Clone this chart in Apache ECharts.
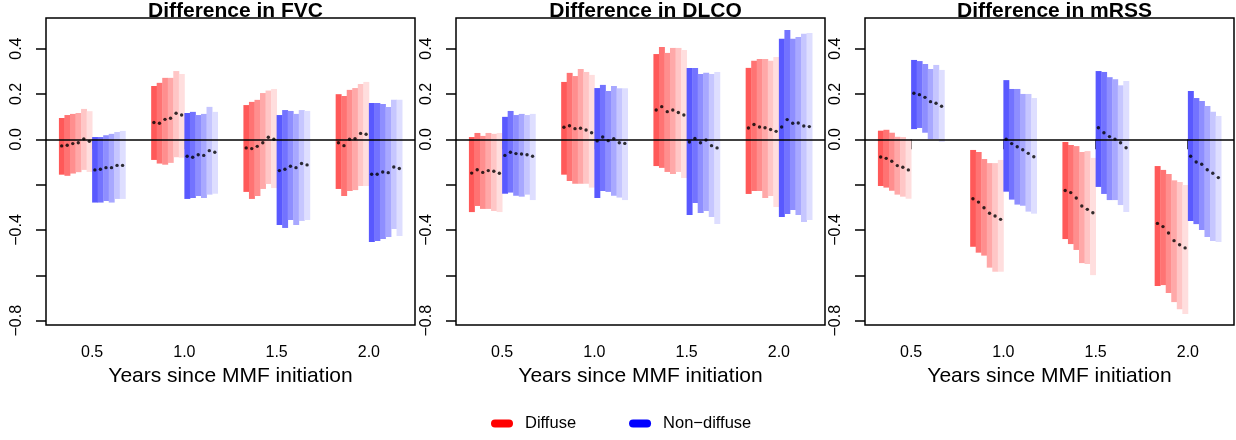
<!DOCTYPE html>
<html>
<head>
<meta charset="utf-8">
<script src="https://cdn.jsdelivr.net/npm/echarts@6/dist/echarts.min.js"></script>
<style>
html,body{margin:0;padding:0;background:#fff;}
#chart{width:1236px;height:440px;}
</style>
</head>
<body>
<div id="chart"></div>
<script>
// ---------------- data ----------------
const times = [0.5, 1.0, 1.5, 2.0];
const xTickValues = [0.5, 1.0, 1.5, 2.0];
const yTickValues = [-0.8, -0.6, -0.4, -0.2, 0, 0.2, 0.4];
const yLabelValues = [-0.8, -0.4, 0, 0.2, 0.4];
const panelTitles = ['Difference in FVC', 'Difference in DLCO', 'Difference in mRSS'];
const groupNames = ['Diffuse', 'Non\u2212diffuse'];
const xAxisTitle = 'Years since MMF initiation';

// each array: rows = time points (0.5,1.0,1.5,2.0), columns = 6 successive estimates
const fvcDiffuseHigh = [[0.094,0.107,0.112,0.116,0.134,0.124],[0.235,0.249,0.271,0.271,0.301,0.288],[0.151,0.165,0.174,0.204,0.215,0.222],[0.199,0.191,0.218,0.226,0.244,0.253]];
const fvcDiffuseLow  = [[-0.156,-0.161,-0.151,-0.145,-0.135,-0.144],[-0.091,-0.107,-0.112,-0.104,-0.079,-0.081],[-0.232,-0.263,-0.250,-0.219,-0.197,-0.215],[-0.219,-0.250,-0.228,-0.224,-0.206,-0.206]];
const fvcDiffuseEst  = [[-0.029,-0.026,-0.019,-0.015,0.002,-0.009],[0.074,0.071,0.088,0.093,0.115,0.107],[-0.038,-0.041,-0.031,-0.015,0.009,0.000],[-0.015,-0.028,0.000,0.003,0.026,0.022]];
const fvcNonHigh = [[0.010,0.010,0.018,0.024,0.032,0.037],[0.116,0.121,0.107,0.112,0.143,0.121],[0.107,0.129,0.125,0.112,0.129,0.125],[0.160,0.160,0.156,0.143,0.174,0.174]];
const fvcNonLow  = [[-0.279,-0.279,-0.272,-0.279,-0.263,-0.263],[-0.263,-0.259,-0.250,-0.259,-0.244,-0.240],[-0.378,-0.391,-0.356,-0.378,-0.360,-0.356],[-0.453,-0.449,-0.440,-0.431,-0.396,-0.426]];
const fvcNonEst  = [[-0.135,-0.132,-0.125,-0.125,-0.115,-0.115],[-0.075,-0.079,-0.068,-0.071,-0.050,-0.057],[-0.138,-0.132,-0.119,-0.125,-0.107,-0.113],[-0.154,-0.154,-0.144,-0.147,-0.122,-0.129]];

const dlcoDiffuseHigh = [[0.010,0.028,0.015,0.028,0.024,0.028],[0.253,0.293,0.279,0.310,0.297,0.284],[0.376,0.407,0.381,0.403,0.403,0.394],[0.315,0.346,0.354,0.354,0.346,0.363]];
const dlcoDiffuseLow  = [[-0.321,-0.294,-0.307,-0.307,-0.316,-0.321],[-0.156,-0.184,-0.196,-0.196,-0.196,-0.213],[-0.118,-0.126,-0.144,-0.153,-0.144,-0.171],[-0.241,-0.228,-0.228,-0.259,-0.250,-0.299]];
const dlcoDiffuseEst  = [[-0.149,-0.134,-0.146,-0.138,-0.141,-0.150],[0.053,0.060,0.047,0.049,0.041,0.029],[0.129,0.144,0.122,0.129,0.118,0.107],[0.050,0.065,0.054,0.051,0.043,0.035]];
const dlcoNonHigh = [[0.099,0.125,0.107,0.112,0.107,0.112],[0.226,0.240,0.213,0.235,0.225,0.225],[0.315,0.315,0.288,0.293,0.288,0.297],[0.443,0.482,0.443,0.451,0.465,0.469]];
const dlcoNonLow  = [[-0.240,-0.235,-0.249,-0.253,-0.244,-0.268],[-0.259,-0.228,-0.232,-0.249,-0.257,-0.268],[-0.334,-0.281,-0.325,-0.316,-0.343,-0.374],[-0.343,-0.329,-0.312,-0.334,-0.365,-0.356]];
const dlcoNonEst  = [[-0.071,-0.057,-0.063,-0.065,-0.068,-0.075],[-0.007,0.010,-0.006,0.003,-0.015,-0.018],[-0.012,0.004,-0.015,-0.003,-0.028,-0.038],[0.054,0.087,0.071,0.072,0.059,0.056]];

const mrssDiffuseHigh = [[0.038,0.042,0.029,0.011,0.010,0.000],[-0.047,-0.056,-0.087,-0.105,-0.105,-0.091],[-0.012,-0.025,-0.030,-0.056,-0.052,-0.082],[-0.118,-0.135,-0.153,-0.181,-0.188,-0.201]];
const mrssDiffuseLow  = [[-0.206,-0.213,-0.227,-0.244,-0.253,-0.262],[-0.474,-0.500,-0.513,-0.566,-0.584,-0.584],[-0.440,-0.462,-0.488,-0.546,-0.550,-0.599],[-0.647,-0.643,-0.678,-0.718,-0.749,-0.771]];
const mrssDiffuseEst  = [[-0.078,-0.084,-0.097,-0.116,-0.123,-0.135],[-0.262,-0.277,-0.302,-0.326,-0.338,-0.353],[-0.226,-0.235,-0.259,-0.294,-0.309,-0.324],[-0.371,-0.385,-0.413,-0.447,-0.465,-0.479]];
const mrssNonHigh = [[0.350,0.345,0.332,0.310,0.328,0.306],[0.261,0.222,0.222,0.200,0.200,0.182],[0.301,0.297,0.274,0.265,0.238,0.257],[0.213,0.182,0.169,0.147,0.121,0.103]];
const mrssNonLow  = [[0.045,0.050,0.029,0.001,0.001,-0.011],[-0.231,-0.266,-0.288,-0.293,-0.319,-0.328],[-0.210,-0.241,-0.268,-0.268,-0.290,-0.321],[-0.360,-0.374,-0.400,-0.431,-0.449,-0.453]];
const mrssNonEst  = [[0.203,0.197,0.185,0.166,0.159,0.146],[0.000,-0.019,-0.033,-0.046,-0.062,-0.077],[0.051,0.029,0.012,0.001,-0.015,-0.037],[-0.075,-0.100,-0.110,-0.134,-0.150,-0.169]];

// ---------------- styling / layout ----------------
const redShades  = ['#ff5959','#ff7373','#ff8e8e','#ffa8a8','#ffc6c6','#ffdede'];
const blueShades = ['#5959ff','#7373ff','#8e8eff','#a8a8ff','#c6c6ff','#dedeff'];
const FONT = '"Liberation Sans", Arial, Helvetica, sans-serif';
const barStep = 0.03;

const panels = [
  {d:[fvcDiffuseLow, fvcDiffuseHigh, fvcDiffuseEst], n:[fvcNonLow, fvcNonHigh, fvcNonEst]},
  {d:[dlcoDiffuseLow, dlcoDiffuseHigh, dlcoDiffuseEst], n:[dlcoNonLow, dlcoNonHigh, dlcoNonEst]},
  {d:[mrssDiffuseLow, mrssDiffuseHigh, mrssDiffuseEst], n:[mrssNonLow, mrssNonHigh, mrssNonEst]}
];
const gridLefts = [46, 456, 865];
const gridW = 369, gridTop = 18, gridH = 307;

function barX(t, k, side) {
  return side < 0 ? t - barStep * 6 + barStep * (k + 0.5) : t + barStep * (k + 0.5);
}
function buildBarData(lows, highs, side) {
  const out = [];
  times.forEach((t, ti) => {
    lows[ti].forEach((lo, k) => { out.push([barX(t, k, side), lo, highs[ti][k], k]); });
  });
  return out;
}
function buildDotData(ests, side) {
  const out = [];
  times.forEach((t, ti) => {
    ests[ti].forEach((e, k) => { out.push([barX(t, k, side), e]); });
  });
  return out;
}
function barRenderer(shades) {
  return function (params, api) {
    const x = api.value(0), lo = api.value(1), hi = api.value(2), k = api.value(3);
    const p1 = api.coord([x, hi]);
    const p2 = api.coord([x, lo]);
    const w = api.size([barStep, 0])[0];
    return {
      type: 'rect',
      shape: {x: p1[0] - w / 2, y: p1[1], width: w + 0.4, height: p2[1] - p1[1]},
      style: {fill: shades[k]}
    };
  };
}
const fmt = v => (v < 0 ? '\u2212' : '') + Math.abs(v).toFixed(1);

const grids = [], xAxes = [], yAxes = [], titles = [], series = [];
panels.forEach((p, i) => {
  grids.push({left: gridLefts[i], top: gridTop, width: gridW, height: gridH,
    show: true, borderColor: '#000', borderWidth: 1.5, backgroundColor: 'transparent'});
  xAxes.push({type: 'value', gridIndex: i, min: 0.25, max: 2.25,
    axisLine: {show: false}, splitLine: {show: false},
    axisTick: {show: true, length: 10, lineStyle: {color: '#000', width: 1.5}, customValues: xTickValues},
    axisLabel: {show: true, customValues: xTickValues, formatter: v => v.toFixed(1),
      color: '#000', fontSize: 16, fontFamily: FONT, margin: 20},
    name: xAxisTitle, nameLocation: 'middle', nameGap: 39,
    nameTextStyle: {color: '#000', fontSize: 21, fontFamily: FONT}});
  yAxes.push({type: 'value', gridIndex: i, min: -0.819, max: 0.535,
    axisLine: {show: false}, splitLine: {show: false},
    axisTick: {show: true, length: 10, lineStyle: {color: '#000', width: 1.5}, customValues: yTickValues},
    axisLabel: {show: true, customValues: yLabelValues, formatter: fmt, rotate: 90,
      color: '#000', fontSize: 16, fontFamily: FONT, margin: 21}});
  titles.push({text: panelTitles[i], left: gridLefts[i] + gridW / 2, top: -4, textAlign: 'center',
    textStyle: {fontSize: 21, fontWeight: 'bold', color: '#000', fontFamily: FONT}});

  series.push({name: groupNames[0], type: 'custom', xAxisIndex: i, yAxisIndex: i,
    renderItem: barRenderer(redShades), itemStyle: {color: '#ff0000'},
    encode: {x: 0, y: [1, 2]}, data: buildBarData(p.d[0], p.d[1], -1), z: 2, silent: true});
  series.push({name: groupNames[1], type: 'custom', xAxisIndex: i, yAxisIndex: i,
    renderItem: barRenderer(blueShades), itemStyle: {color: '#0000ff'},
    encode: {x: 0, y: [1, 2]}, data: buildBarData(p.n[0], p.n[1], 1), z: 2, silent: true});
  series.push({type: 'line', xAxisIndex: i, yAxisIndex: i, data: [], z: 3, silent: true,
    markLine: {symbol: 'none', silent: true, label: {show: false},
      lineStyle: {color: '#000', width: 1.5, type: 'solid'}, data: [{yAxis: 0}]}});
  series.push({type: 'scatter', xAxisIndex: i, yAxisIndex: i, symbol: 'circle', symbolSize: 3.4,
    itemStyle: {color: '#000'}, data: buildDotData(p.d[2], -1).concat(buildDotData(p.n[2], 1)), z: 4, silent: true});
});

const chart = echarts.init(document.getElementById('chart'), null, {renderer: 'canvas'});
chart.setOption({
  animation: false,
  backgroundColor: '#fff',
  title: titles,
  grid: grids,
  xAxis: xAxes,
  yAxis: yAxes,
  legend: {
    data: groupNames, left: 491, top: 415, padding: 0, selectedMode: false,
    icon: 'path://M4,0 L18,0 A4,4 0 0 1 18,8 L4,8 A4,4 0 0 1 4,0 Z',
    itemWidth: 22, itemHeight: 8, itemGap: 53,
    textStyle: {color: '#000', fontSize: 16.5, fontFamily: FONT, padding: [0, 0, 0, 7]}
  },
  series: series
});
</script>
</body>
</html>
